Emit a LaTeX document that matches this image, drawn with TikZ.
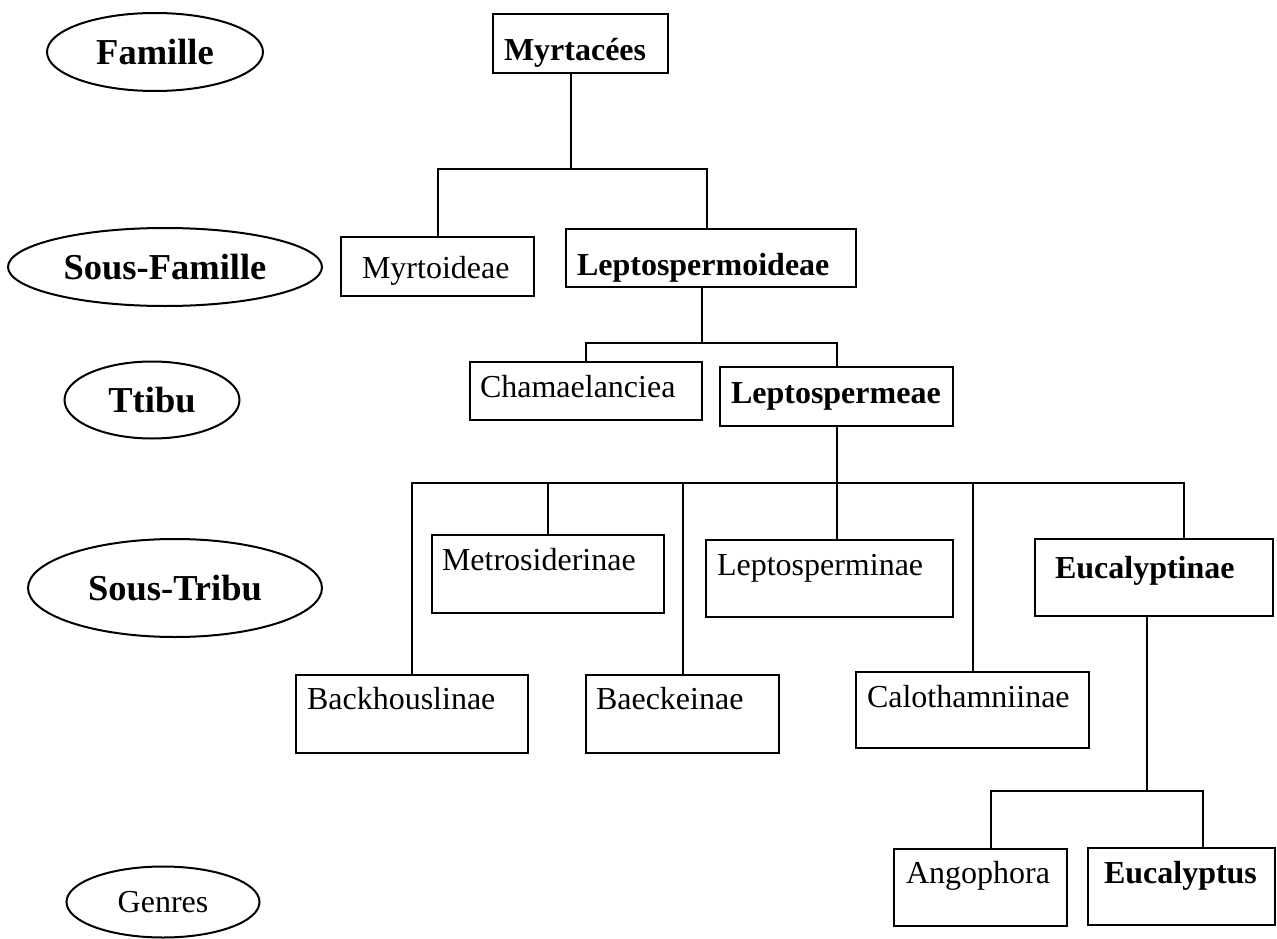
\documentclass[tikz,border=0pt]{standalone}
\usepackage{fontspec}
\setmainfont{Liberation Serif}
\usetikzlibrary{shapes}

\begin{document}
\begin{tikzpicture}[x=1pt,y=-1pt,
rang/.style={ellipse,draw,line width=2pt,inner sep=0pt,font=\fontsize{36.5}{40}\selectfont\bfseries},
taxon/.style={rectangle,draw,line width=2pt,anchor=north west,align=left,outer sep=0pt,inner ysep=0pt,inner xsep=11pt,font=\fontsize{32}{38}\selectfont},
gras/.style={font=\fontsize{32}{38}\selectfont\bfseries}]
\useasboundingbox (0,0) rectangle (1277,939);
% les rangs
\node[rang,minimum width=216pt,minimum height=78pt](famille) at (155,52){Famille};
\node[rang,minimum width=314pt,minimum height=78pt](sousfam) at (165,267){Sous-Famille};
\node[rang,minimum width=175pt,minimum height=77pt](tribu) at (152,400){Ttibu};
\node[rang,minimum width=294pt,minimum height=98pt](soustribu) at (175,588){Sous-Tribu};
\node[rang,minimum width=193pt,minimum height=71pt,font=\fontsize{32}{38}\selectfont](genres) at (163,902){Genres};
% les taxons
\node[taxon,gras,text width=153pt,text height=47pt,text depth=12pt](myrt) at (493,14){Myrtacées};
\node[taxon,inner xsep=21pt,text width=151pt,text height=41pt,text depth=18pt](myrto) at (341,237){Myrtoideae};
\node[taxon,gras,text width=268pt,text height=46pt,text depth=12pt](leptoid) at (566,229){Leptospermoideae};
\node[taxon,inner xsep=10pt,text width=212pt,text height=35pt,text depth=23pt](chamae) at (470,362){Chamaelanciea};
\node[taxon,gras,text width=211pt,text height=36pt,text depth=23pt](leptea) at (720,367){Leptospermeae};
\node[taxon,inner xsep=10pt,text width=212pt,text height=35pt,text depth=43pt](metro) at (432,535){Metrosiderinae};
\node[taxon,text width=225pt,text height=35pt,text depth=42pt](leptin) at (706,540){Leptosperminae};
\node[taxon,gras,inner xsep=20pt,text width=198pt,text height=39pt,text depth=38pt](euctin) at (1035,539){Eucalyptinae};
\node[taxon,text width=210pt,text height=34pt,text depth=44pt](backh) at (296,675){Backhouslinae};
\node[taxon,inner xsep=10pt,text width=173pt,text height=34pt,text depth=44pt](baeck) at (586,675){Baeckeinae};
\node[taxon,text width=211pt,text height=35pt,text depth=41pt](calo) at (856,672){Calothamniinae};
\node[taxon,inner xsep=12pt,text width=149pt,text height=34pt,text depth=43pt](ango) at (894,849){Angophora};
\node[taxon,gras,inner xsep=16pt,text width=155pt,text height=35pt,text depth=42pt](eucus) at (1088,848){Eucalyptus};
% les embranchements
\coordinate(fork1) at ([xshift=-9.5pt]myrt.south |- 0,169);
\coordinate(fork2) at ([xshift=-9pt]leptoid.south |- 0,343);
\coordinate(fork3) at (leptea.south |- 0,483);
\coordinate(fork4) at ([xshift=-7pt]euctin.south |- 0,791);
\begin{scope}[line width=2pt]
 \draw ([xshift=-9.5pt]myrt.south)--(fork1);
 \draw (myrto.north)|-(fork1);
 \draw ([xshift=-4pt]leptoid.north)|-(fork1);
 \draw ([xshift=-9pt]leptoid.south)--(fork2);
 \draw (chamae.north)|-(fork2);
 \draw (leptea.north)|-(fork2);
 \draw (leptea.south)--(fork3);
 \draw (backh.north)|-(fork3);
 \draw (metro.north)|-(fork3);
 \draw (baeck.north)|-(fork3);
 \draw (leptin.north -| fork3)--(fork3);
 \draw (calo.north)|-(fork3);
 \draw ([xshift=30pt]euctin.north)|-(fork3);
 \draw ([xshift=-7pt]euctin.south)--(fork4);
 \draw ([xshift=10.5pt]ango.north)|-(fork4);
 \draw ([xshift=21.5pt]eucus.north)|-(fork4);
\end{scope}
\end{tikzpicture}
\end{document}
